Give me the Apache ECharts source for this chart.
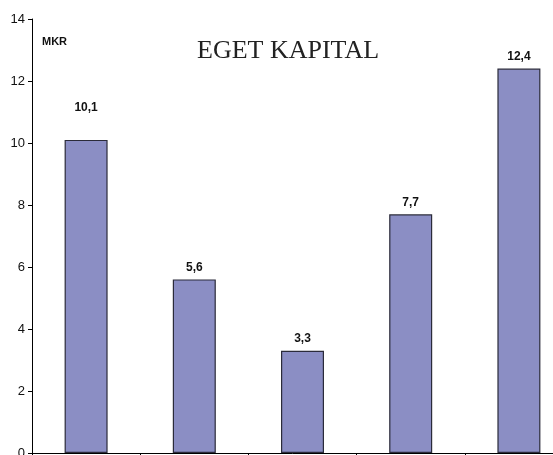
<!DOCTYPE html>
<html>
<head>
<meta charset="utf-8">
<script src="https://cdn.jsdelivr.net/npm/echarts@6/dist/echarts.min.js"></script>
<style>
  html, body { margin: 0; padding: 0; background: #fff; }
  #main { width: 553px; height: 455px; }
</style>
</head>
<body>
<div id="main"></div>
<script>
var categories = ['1', '2', '3', '4', '5']
var values = [10.1, 5.6, 3.3, 7.7, 12.4]
var labelGaps = [26, 6, 6, 6, 6]

var narrow = '"Liberation Sans Narrow", "Liberation Sans", Arial, sans-serif'

var chart = echarts.init(document.getElementById('main'))
chart.setOption({
  animation: false,
  title: {
    text: 'EGET KAPITAL',
    left: 192,
    top: 33,
    textStyle: { fontFamily: '"Liberation Serif", "Times New Roman", serif', fontWeight: 'normal', fontSize: 26, color: '#222' }
  },
  graphic: [{
    type: 'text',
    left: 42,
    top: 36,
    style: { text: 'MKR', font: 'bold 11px ' + narrow, fill: '#111' }
  }],
  grid: { left: 32, right: -20, top: 19, bottom: 2, containLabel: false, outerBoundsMode: 'none' },
  xAxis: {
    type: 'category',
    data: categories,
    axisLine: { lineStyle: { color: '#000', width: 1 } },
    axisTick: { show: true, length: 3, lineStyle: { color: '#000' } },
    axisLabel: { show: false }
  },
  yAxis: {
    type: 'value',
    min: 0,
    max: 14,
    interval: 2,
    splitLine: { show: false },
    axisLine: { show: true, lineStyle: { color: '#000', width: 1 } },
    axisTick: { show: true, length: 4, lineStyle: { color: '#000' } },
    axisLabel: { color: '#111', fontSize: 13, fontFamily: narrow, margin: 7 }
  },
  series: [{
    type: 'bar',
    barWidth: 43,
    data: values.map(function (v, i) {
      return { value: v, label: { distance: labelGaps[i] } }
    }),
    itemStyle: { color: '#8b8ec4', borderColor: '#2b2b3a', borderWidth: 1.2 },
    label: {
      show: true,
      position: 'top',
      color: '#111',
      fontWeight: 'bold',
      fontSize: 12,
      fontFamily: narrow,
      formatter: function (p) { return String(p.value).replace('.', ',') }
    }
  }]
})
</script>
</body>
</html>
